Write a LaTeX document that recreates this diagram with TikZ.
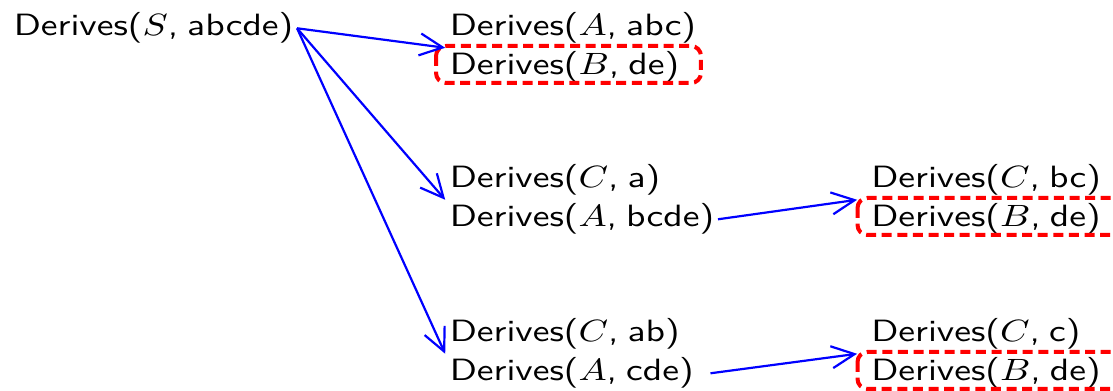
\documentclass[tikz,border=0pt]{standalone}
\usepackage{graphicx}
\usetikzlibrary{arrows.meta,fit}
% goal label in wide sans lettering
\newcommand\drv[2]{\scalebox{0.94}[0.77]{Derives($#1$,\hspace{0.24em}#2)}}
\begin{document}
\begin{tikzpicture}[x=0.25pt,y=-0.25pt,
  term/.style={anchor=base west,inner xsep=0.75pt,inner ysep=0pt,
    font=\fontsize{10}{12}\selectfont\sffamily},
  grp/.style={inner ysep=0pt,inner xsep=#1},
  link/.style={draw=blue,line width=0.55pt,
    -{Straight Barb[length=5.75pt,width=5.5pt]}},
  hl/.style={draw=red,line width=1pt,dash pattern=on 2.5pt off 1.4pt,
    rounded corners=2.5pt}]
\useasboundingbox (0,0) rectangle (1113,391);

% start goal
\node[term] (s) at (10,36) {\drv{S}{abcde}};

% second column
\node[term] (r11) at (446,36)  {\drv{A}{abc}};
\node[term] (r12) at (446,75)  {\drv{B}{de}};
\node[term] (r21) at (446,188) {\drv{C}{a}};
\node[term] (r22) at (446,227) {\drv{A}{bcde}};
\node[term] (r31) at (446,342) {\drv{C}{ab}};
\node[term] (r32) at (446,381) {\drv{A}{cde}};

% third column
\node[term] (q21) at (867.5,188) {\drv{C}{bc}};
\node[term] (q22) at (867.5,227) {\drv{B}{de}};
\node[term] (q31) at (867.5,342) {\drv{C}{c}};
\node[term] (q32) at (867.5,381) {\drv{B}{de}};

% goal groups
\node[grp=0pt,fit=(r11)(r12)] (g1) {};
\node[grp=0pt,fit=(r21)(r22)] (g2) {};
\node[grp=0pt,fit=(r31)(r32)] (g3) {};
\node[grp=2.4pt,fit=(q21)(q22)] (h2) {};
\node[grp=2.4pt,fit=(q31)(q32)] (h3) {};

% repeated goals
\foreach \n in {r12,q22,q32}
  \draw[hl] ([shift={(-10,-29)}]\n.base west) rectangle ([shift={(18,8)}]\n.base east);

% expansions
\draw[link] (s.east) -- (g1.west);
\draw[link] (s.east) -- (g2.west);
\draw[link] (s.east) -- (g3.west);
\draw[link] (r22.east) -- (h2.west);
\draw[link] ([xshift=3.25pt]r32.east) -- (h3.west);
\end{tikzpicture}
\end{document}
